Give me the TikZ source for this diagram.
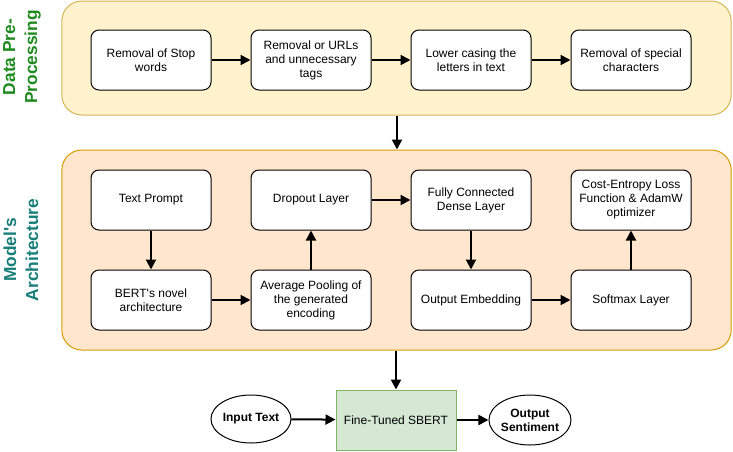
\documentclass[tikz,border=0pt]{standalone}
\usepackage{fontspec}
\setmainfont{Liberation Sans}
\usetikzlibrary{arrows.meta,shapes.geometric}
\definecolor{grpAfill}{HTML}{FFF2CC}
\definecolor{grpAdraw}{HTML}{D6B656}
\definecolor{grpBfill}{HTML}{FFE6CC}
\definecolor{grpBdraw}{HTML}{D79B00}
\definecolor{sbfill}{HTML}{D5E8D4}
\definecolor{sbdraw}{HTML}{82B366}
\definecolor{lblgreen}{HTML}{1F8A1F}
\definecolor{lblteal}{HTML}{177E7A}
\begin{document}
\begin{tikzpicture}[x=0.75pt,y=-0.75pt,
  stepbox/.style={draw=black,fill=white,rounded corners=6pt,minimum width=90pt,minimum height=45pt,
    align=center,font=\fontsize{9pt}{10.5pt}\selectfont,line width=0.75pt},
  grp/.style={rounded corners=15pt,line width=0.75pt},
  arr/.style={-{Triangle[length=7.5pt,width=7.5pt]},line width=1.5pt},
  oval/.style={ellipse,draw=black,fill=white,line width=0.75pt,minimum width=60pt,minimum height=36pt,
    inner sep=0pt,align=center,font=\bfseries\fontsize{9pt}{10.5pt}\selectfont},
  sidelbl/.style={rotate=90,align=center,font=\bfseries\fontsize{13pt}{16.5pt}\selectfont}
]
\useasboundingbox (0,0) rectangle (733,451);
% containers
\node[grp,draw=grpAdraw,fill=grpAfill,minimum width=502pt,minimum height=85.5pt] (pre) at (396.5,58) {};
\node[grp,draw=grpBdraw,fill=grpBfill,minimum width=502pt,minimum height=150pt] (arch) at (396.5,250) {};
% side labels
\node[sidelbl,text=lblgreen] (lblpre) at (22,57) {Data Pre-\\Processing};
\node[sidelbl,text=lblteal] (lblarch) at (21,250) {Model\textquotesingle s\\Architecture};
% top row
\node[stepbox] (s1) at (151,60) {Removal of Stop\\words};
\node[stepbox] (s2) at (311,60) {Removal or URLs\\and unnecessary\\tags};
\node[stepbox] (s3) at (471,60) {Lower casing the\\letters in text};
\node[stepbox] (s4) at (631,60) {Removal of special\\characters};
\draw[arr] (s1) -- (s2);
\draw[arr] (s2) -- (s3);
\draw[arr] (s3) -- (s4);
% architecture
\node[stepbox] (tp) at (151,200) {Text Prompt};
\node[stepbox] (bert) at (151,300) {BERT\textquotesingle s novel\\architecture};
\node[stepbox] (drop) at (311,200) {Dropout Layer};
\node[stepbox] (pool) at (311,300) {Average Pooling of\\the generated\\encoding};
\node[stepbox] (fc) at (471,200) {Fully Connected\\Dense Layer};
\node[stepbox] (emb) at (471,300) {Output Embedding};
\node[stepbox] (ce) at (631,200) {Cost-Entropy Loss\\Function \& AdamW\\optimizer};
\node[stepbox] (soft) at (631,300) {Softmax Layer};
\draw[arr] (tp) -- (bert);
\draw[arr] (bert) -- (pool);
\draw[arr] (pool) -- (drop);
\draw[arr] (drop) -- (fc);
\draw[arr] (fc) -- (emb);
\draw[arr] (emb) -- (soft);
\draw[arr] (soft) -- (ce);
% group links
\draw[arr] (pre.south -| 397,0) -- (arch.north -| 397,0);
% bottom
\node[draw=sbdraw,fill=sbfill,line width=0.75pt,minimum width=90pt,minimum height=45pt,
  font=\fontsize{9pt}{10.5pt}\selectfont] (sbert) at (396,420) {Fine-Tuned SBERT};
\node[oval] (inp) at (251,419) {Input Text};
\node[oval,minimum width=58.5pt,minimum height=37.5pt] (out) at (530,420) {Output\\Sentiment};
\draw[arr] (arch.south -| sbert.north) -- (sbert.north);
\draw[arr] (inp) -- (sbert);
\draw[arr] (sbert) -- (out);
\end{tikzpicture}
\end{document}
